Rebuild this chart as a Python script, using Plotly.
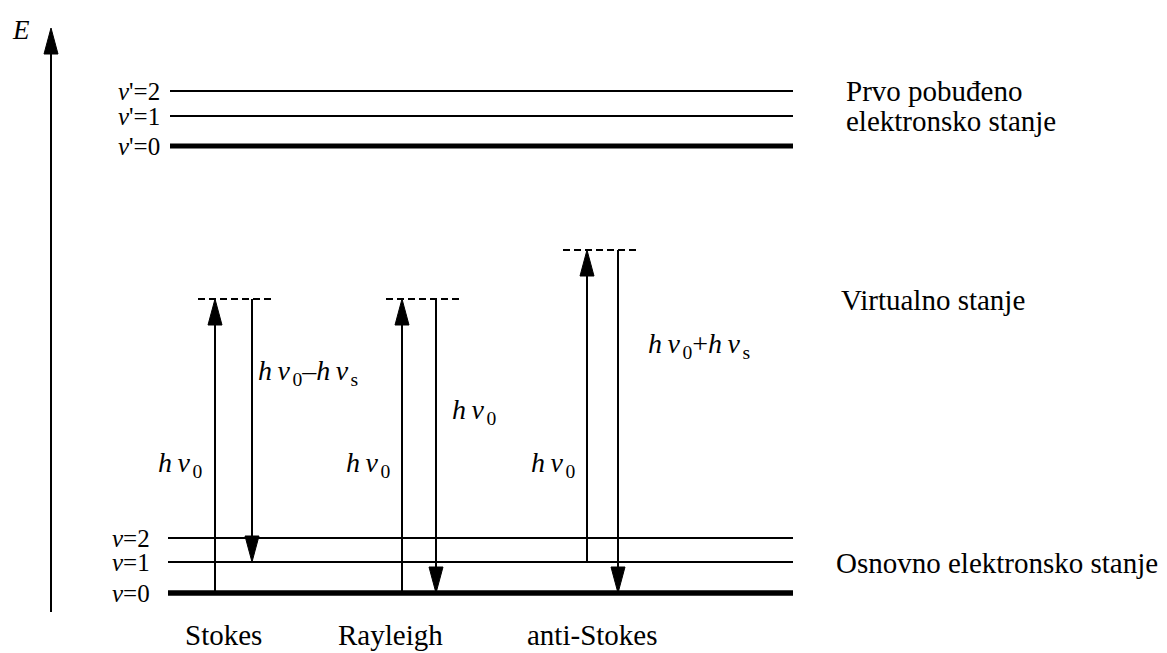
import plotly.graph_objects as go

# ---------------- data (energy in arbitrary units, increasing upward) ----------------
ground_labels = ["<i>ν</i>=0", "<i>ν</i>=1", "<i>ν</i>=2"]
ground_E = [60, 91, 115]
excited_labels = ["<i>ν</i>'=0", "<i>ν</i>'=1", "<i>ν</i>'=2"]
excited_E = [507, 537, 562]

processes = ["Stokes", "Rayleigh", "anti-Stokes"]
up_from = [60, 60, 91]          # level where the absorption arrow starts
virtual_E = [354, 354, 403]     # virtual state reached
down_to = [91, 60, 60]          # level reached after scattering
up_labels = ["<i>h</i>\u2009<i>ν</i>\u200a<sub>0</sub>"] * 3
down_labels = ["<i>h</i>\u2009<i>ν</i>\u200a<sub>0</sub>–<i>h</i>\u2009<i>ν</i>\u200a<sub>s</sub>",
               "<i>h</i>\u2009<i>ν</i>\u200a<sub>0</sub>",
               "<i>h</i>\u2009<i>ν</i>\u200a<sub>0</sub>+<i>h</i>\u2009<i>ν</i>\u200a<sub>s</sub>"]
state_names = ["Prvo pobuđeno", "elektronsko stanje", "Virtualno stanje", "Osnovno elektronsko stanje"]

# ---------------- layout / styling ----------------
ground_width = [5.5, 2, 2]
excited_width = [5, 2, 2]
ground_x = [168, 793]
excited_x = [170, 793]
up_x = [215, 402, 587]
down_x = [252, 436, 618]
virtual_x = [[198, 272], [386, 460], [563, 640]]
process_x = [223, 390, 592]
up_label_x = [203, 391, 576]
up_label_E = 189
down_label_x = [257, 451, 647]
down_label_E = [281, 242, 308]
state_pos = [(845, 562), (845, 532), (840, 353), (835, 90)]
axis_x = 51
axis_E = [41, 625]
HEAD_L, HEAD_W = 26, 14

FONT = "Liberation Serif"
fig = go.Figure()

def line(xs, ys, w, dash=None):
    fig.add_trace(go.Scatter(x=xs, y=ys, mode="lines",
                             line=dict(color="black", width=w, dash=dash),
                             hoverinfo="skip", showlegend=False))

def arrow(x, y0, y1):
    d = 1 if y1 > y0 else -1
    base = y1 - d * HEAD_L
    line([x, x], [y0, base + d * 2], 2)
    fig.add_trace(go.Scatter(x=[x, x - HEAD_W / 2, x + HEAD_W / 2, x],
                             y=[y1, base, base, y1], mode="lines", fill="toself",
                             fillcolor="black", line=dict(color="black", width=1),
                             hoverinfo="skip", showlegend=False))

for E, w in zip(ground_E, ground_width):
    line(ground_x, [E, E], w)
for E, w in zip(excited_E, excited_width):
    line(excited_x, [E, E], w)
for xs, E in zip(virtual_x, virtual_E):
    line(xs, [E, E], 2, "7px,4px")

arrow(axis_x, axis_E[0], axis_E[1])
for i in range(3):
    arrow(up_x[i], up_from[i], virtual_E[i])
    arrow(down_x[i], virtual_E[i], down_to[i])

ann = []
def text(x, y, t, xa="left", size=27):
    ann.append(dict(x=x, y=y, xref="x", yref="y", text=t, showarrow=False,
                    xanchor=xa, yanchor="middle", align="left", borderpad=0,
                    font=dict(family=FONT, size=size, color="black")))

text(21, 623, "<i>E</i>", "center", 27)
for lab, E in zip(ground_labels, ground_E):
    text(151, E, lab, "right", 25)
for lab, E in zip(excited_labels, excited_E):
    text(161, E, lab, "right", 25)
for i in range(3):
    text(up_label_x[i], up_label_E, up_labels[i], "right", 28)
    text(down_label_x[i], down_label_E[i], down_labels[i], "left", 28)
    text(process_x[i], 18, processes[i], "center", 29)
for name, (x, E) in zip(state_names, state_pos):
    text(x, E, name, "left", 29)

fig.update_layout(
    width=1167, height=653, margin=dict(l=0, r=0, t=0, b=0),
    paper_bgcolor="white", plot_bgcolor="white",
    font=dict(family=FONT, size=27, color="black"),
    xaxis=dict(range=[0, 1167], visible=False, fixedrange=True),
    yaxis=dict(range=[0, 653], visible=False, fixedrange=True),
    annotations=ann, showlegend=False,
)
fig.write_html("out.html", config={"displayModeBar": False},
               post_script="document.body.style.margin='0';document.body.style.overflow='hidden';")
